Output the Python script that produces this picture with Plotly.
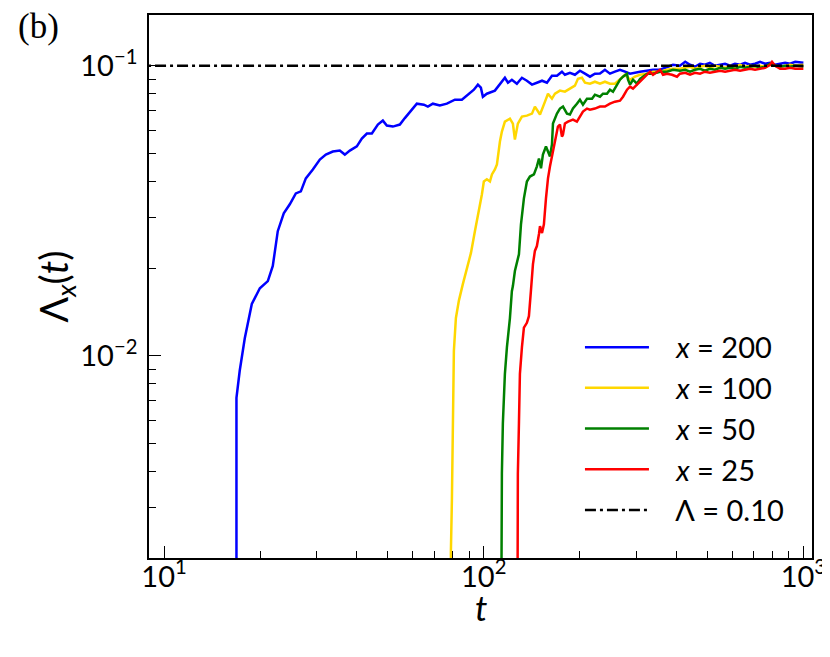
import plotly.graph_objects as go

# ---- data ----
t_tail = [411, 427, 442, 458, 475, 492, 510, 529, 549, 569, 590, 611, 634, 657,
          681, 706, 732, 759, 787, 798, 816, 846, 877, 909, 943, 1000]

t_x200 = [16.85, 16.85, 17.25, 17.89, 18.82, 19.94, 21.12, 21.89, 22.69, 23.69, 24.74,
          25.84, 26.79, 27.77, 29.21, 30.72, 32.08, 33.73, 35.47, 36.78, 38.13, 40.10,
          41.57, 43.10, 44.68, 46.66, 48.36, 49.77, 51.97, 54.67, 56.67, 58.75, 61.78,
          64.98, 66.89, 69.34, 72.93, 76.70, 81.26, 85.46, 89.23, 93.18, 95.90, 97.99,
          99.42, 102.3, 108.4, 112.4, 116.5, 119.1, 122.5, 127.0, 131.7, 136.5, 141.6,
          146.7, 152.2, 157.7, 163.5, 169.5, 175.7, 179.5, 186.1, 192.9, 200.0, 207.4,
          215.0, 222.8, 231.1, 239.5, 248.3, 257.4, 266.9, 276.7, 286.9, 308.4, 324.3,
          338.6, 356.1, 374.5, 391.0]
L_x200 = [0.0001, 0.00717, 0.00888, 0.0115, 0.0151, 0.0171, 0.0181, 0.0204, 0.0269, 0.0310,
          0.0333, 0.0363, 0.0369, 0.0409, 0.0439, 0.0475, 0.0494, 0.0506, 0.0510, 0.0494,
          0.0510, 0.0527, 0.0561, 0.0584, 0.0584, 0.0627, 0.0647, 0.0622, 0.0617, 0.0627,
          0.0660, 0.0690, 0.0740, 0.0734, 0.0723, 0.0740, 0.0729, 0.0740, 0.0764, 0.0764,
          0.0795, 0.0827, 0.0861, 0.0840, 0.0782, 0.0801, 0.0821, 0.0867, 0.0909, 0.0874,
          0.0895, 0.0867, 0.0909, 0.0888, 0.0861, 0.0874, 0.0888, 0.0874, 0.0924, 0.0924,
          0.0954, 0.0931, 0.0946, 0.0931, 0.0961, 0.0939, 0.0917, 0.0939, 0.0940, 0.0969,
          0.0939, 0.0954, 0.0969, 0.0954, 0.0939, 0.0954, 0.0961, 0.0969, 0.0969, 0.0992,
          0.1008]
L_x200_tail = [0.1000, 0.1032, 0.1008, 0.0992, 0.1016, 0.1008, 0.1024, 0.1000, 0.1008, 0.1016,
               0.1000, 0.1016, 0.1008, 0.1024, 0.1008, 0.1016, 0.1032, 0.1016, 0.1024, 0.1016,
               0.1008, 0.1016, 0.1024, 0.1016, 0.1032, 0.1024]

t_x100 = [78.95, 78.95, 79.53, 79.93, 80.67, 81.85, 83.64, 86.09, 88.61, 91.20, 93.86, 97.30,
          98.70, 100.1, 102.3, 104.6, 106.1, 108.4, 110.0, 112.4, 114.0, 116.5, 120.8, 123.4,
          125.2, 127.9, 131.7, 136.5, 141.6, 144.6, 150.0, 155.5, 158.9, 163.5, 167.1, 173.2,
          179.5, 186.1, 192.9, 197.2, 202.9, 207.4, 215.0, 222.8, 231.1, 239.5, 248.3, 257.4,
          266.9, 276.7, 286.9, 297.4, 308.4, 324.3, 338.6, 356.1, 374.5, 391.0]
L_x100 = [0.0001, 0.0021, 0.00318, 0.00472, 0.0104, 0.0135, 0.0155, 0.0177, 0.0199, 0.0226,
          0.0269, 0.0328, 0.0360, 0.0399, 0.0406, 0.0399, 0.0422, 0.0439, 0.0457, 0.0548,
          0.0593, 0.0642, 0.0657, 0.0632, 0.0557, 0.0632, 0.0668, 0.0673, 0.0684, 0.0723,
          0.0679, 0.0752, 0.0801, 0.0770, 0.0801, 0.0821, 0.0814, 0.0834, 0.0854, 0.0902,
          0.0909, 0.0874, 0.0867, 0.0881, 0.0867, 0.0881, 0.0867, 0.0867, 0.0902, 0.0931,
          0.0895, 0.0917, 0.0931, 0.0939, 0.0954, 0.0954, 0.0969, 0.0976]
L_x100_tail = [0.0976, 0.0984, 0.0992, 0.0976, 0.0992, 0.1000, 0.0984, 0.1000, 0.0992, 0.0984,
               0.1000, 0.0992, 0.1008, 0.0992, 0.1000, 0.0992, 0.1000, 0.0992, 0.1008, 0.1000,
               0.1000, 0.0992, 0.1000, 0.1008, 0.1000, 0.1008]

t_x50 = [112.4, 114.0, 114.8, 116.5, 118.2, 120.8, 122.5, 123.4, 125.2, 127.0, 128.9, 130.8,
         133.6, 136.5, 139.5, 143.6, 146.7, 148.9, 151.1, 153.2, 156.6, 158.9, 161.2, 163.5,
         164.7, 169.5, 173.2, 177.0, 182.2, 186.1, 190.2, 195.7, 200.0, 204.4, 210.4, 218.2,
         222.8, 231.1, 236.1, 243.0, 248.3, 253.8, 261.2, 266.9, 272.8, 280.8, 282.8, 286.9,
         293.1, 301.6, 308.4, 315.0, 324.3, 338.6, 356.1, 374.5, 391.0]
L_x50 = [0.0001, 0.00393, 0.00584, 0.00867, 0.0107, 0.0135, 0.0167, 0.0174, 0.0196, 0.0212,
         0.0224, 0.0284, 0.0349, 0.0399, 0.0415, 0.0422, 0.0450, 0.0479, 0.0443, 0.0494,
         0.0527, 0.0506, 0.0487, 0.0535, 0.0632, 0.0684, 0.0712, 0.0723, 0.0684, 0.0679,
         0.0712, 0.0740, 0.0764, 0.0734, 0.0770, 0.0770, 0.0795, 0.0782, 0.0801, 0.0801,
         0.0827, 0.0814, 0.0861, 0.0895, 0.0917, 0.0939, 0.0895, 0.0861, 0.0895, 0.0867,
         0.0902, 0.0917, 0.0939, 0.0939, 0.0954, 0.0954, 0.0969]
L_x50_tail = [0.0961, 0.0969, 0.0954, 0.0969, 0.0976, 0.0961, 0.0976, 0.0969, 0.0984, 0.0976,
              0.0984, 0.0976, 0.0992, 0.0984, 0.0992, 0.1000, 0.0984, 0.0992, 0.1016, 0.1008,
              0.1000, 0.0992, 0.1000, 0.0992, 0.1000, 0.0992]

t_x25 = [126.8, 127.9, 128.9, 129.8, 131.7, 133.6, 136.5, 138.5, 140.5, 142.6, 144.6, 146.7,
         148.9, 150.0, 152.2, 154.3, 156.6, 158.9, 161.2, 164.7, 168.3, 170.7, 173.2, 175.7,
         177.0, 179.5, 183.5, 190.2, 195.7, 200.0, 204.4, 210.4, 215.0, 222.8, 231.1, 239.5,
         248.3, 257.4, 266.9, 272.8, 280.8, 286.9, 293.1, 301.6, 308.4, 315.0, 324.3, 331.4,
         338.6, 348.5, 356.1, 363.9, 374.5, 388.2, 402.4]
L_x25 = [0.0001, 0.00393, 0.00584, 0.00867, 0.0107, 0.0125, 0.0130, 0.0137, 0.0167, 0.0207,
         0.0230, 0.0239, 0.0263, 0.0280, 0.0265, 0.0284, 0.0349, 0.0409, 0.0450, 0.0506,
         0.0570, 0.0617, 0.0627, 0.0570, 0.0579, 0.0632, 0.0642, 0.0652, 0.0642, 0.0668,
         0.0695, 0.0712, 0.0706, 0.0712, 0.0723, 0.0723, 0.0740, 0.0752, 0.0758, 0.0782,
         0.0827, 0.0847, 0.0834, 0.0861, 0.0881, 0.0902, 0.0931, 0.0954, 0.0931, 0.0954,
         0.0969, 0.0931, 0.0939, 0.0931, 0.0917]
L_x25_tail = [0.0939, 0.0946, 0.0931, 0.0946, 0.0939, 0.0954, 0.0946, 0.0954, 0.0961, 0.0954,
              0.0961, 0.0969, 0.0961, 0.0969, 0.0976, 0.0969, 0.0976, 0.0984, 0.1008, 0.1032,
              0.1000, 0.0976, 0.0976, 0.0984, 0.0976, 0.0976]

t_ref = [8.0, 1000.0]
lambda_ref = 0.10

x_tickvals = [10, 100, 1000]
x_ticktext = ["10<sup>1</sup>", "10<sup>2</sup>", "10<sup>3</sup>"]
y_tickvals = [0.01, 0.1]
y_ticktext = ["10<sup>\u22122</sup>", "10<sup>\u22121</sup>"]

NB = "\u00a0\u00a0\u00a0"
series = [
    (NB + "<i>x</i> = 200", t_x200, L_x200, L_x200_tail, "#0000ff"),
    (NB + "<i>x</i> = 100", t_x100, L_x100, L_x100_tail, "#ffd700"),
    (NB + "<i>x</i> = 50", t_x50, L_x50, L_x50_tail, "#008000"),
    (NB + "<i>x</i> = 25", t_x25, L_x25, L_x25_tail, "#ff0000"),
]

FONT = "Lato"
fig = go.Figure()
for name, tt, LL, Ltail, col in series:
    fig.add_trace(go.Scatter(x=tt + t_tail, y=LL + Ltail, mode="lines", name=name,
                             line=dict(color=col, width=2.5)))
fig.add_trace(go.Scatter(x=t_ref, y=[lambda_ref] * len(t_ref), mode="lines",
                         name=NB + "Λ = 0.10",
                         line=dict(color="black", width=2.4, dash="11px,4px,3px,4px")))

axis_common = dict(
    type="log", showline=True, linecolor="black", linewidth=1.5, mirror=True,
    ticks="inside", ticklen=12, tickwidth=1.3, tickcolor="black",
    showgrid=False, zeroline=False,
    tickfont=dict(family=FONT, size=29, color="black"),
    minor=dict(ticks="inside", ticklen=7, tickwidth=1.1, tickcolor="black",
               dtick="D1", showgrid=False),
)

fig.update_layout(
    width=830, height=657,
    margin=dict(l=141, r=26, t=5, b=107),
    paper_bgcolor="white", plot_bgcolor="white",
    showlegend=True,
    legend=dict(x=0.650, y=0.435, xanchor="left", yanchor="top", itemwidth=64,
                bgcolor="rgba(0,0,0,0)", font=dict(family=FONT, size=29, color="black"),
                tracegroupgap=0),
    xaxis=dict(axis_common, range=[0.953, 3.027], tickvals=x_tickvals, ticktext=x_ticktext,
               ticklabelstandoff=-8),
    yaxis=dict(axis_common, range=[-2.697, -0.825], tickvals=y_tickvals, ticktext=y_ticktext,
               ticklabelstandoff=4,
               title=dict(text="Λ<sub><i>x</i></sub>(<i>t</i>)",
                          font=dict(family=FONT, size=38, color="black"), standoff=0)),
    annotations=[
        dict(text="(b)", xref="paper", yref="paper", x=-0.2006, y=0.978,
             xanchor="left", yanchor="middle", showarrow=False,
             font=dict(family="Liberation Serif", size=35, color="black")),
        dict(text="<i>t</i>", xref="paper", yref="paper", x=0.5, y=-0.09,
             xanchor="center", yanchor="middle", showarrow=False,
             font=dict(family=FONT, size=35, color="black")),
    ],
)

fig.write_html("out.html")
